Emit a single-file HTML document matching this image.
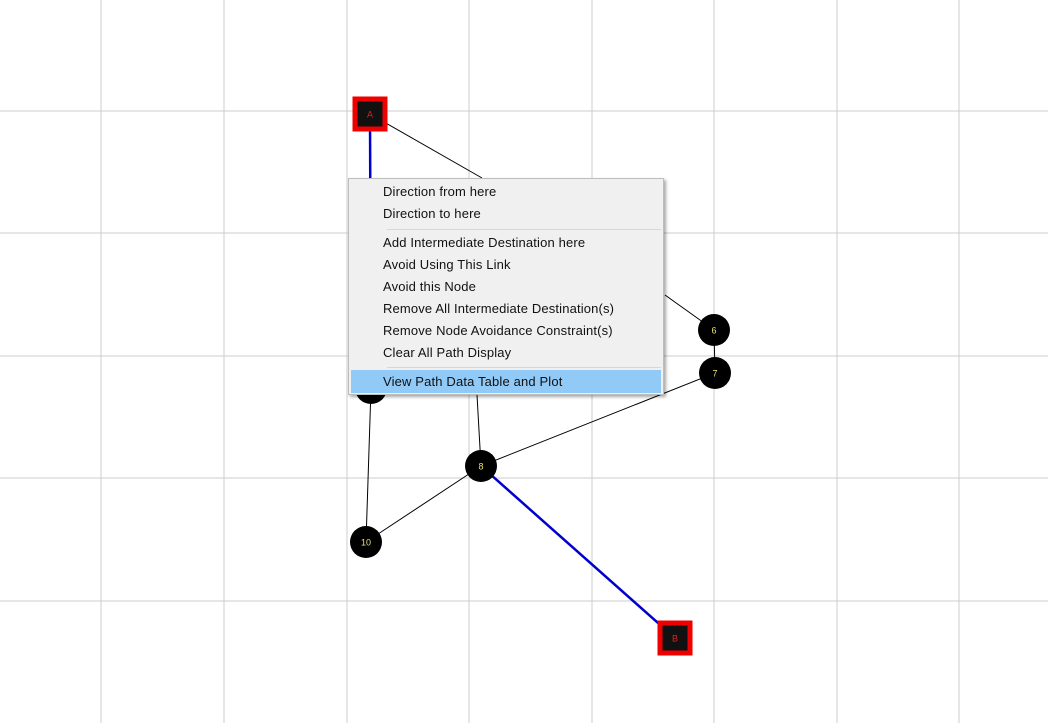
<!DOCTYPE html>
<html><head><meta charset="utf-8">
<style>
html,body{margin:0;padding:0;background:#fff;}
#wrap{position:relative;width:1048px;height:723px;overflow:hidden;font-family:"Liberation Sans","Noto Sans CJK SC",sans-serif;}
svg{position:absolute;left:0;top:0;}
#menu{position:absolute;left:348px;top:178px;width:316px;height:217px;background:#f0f0f0;border:1px solid #bdbdbd;box-shadow:2px 2px 3px rgba(0,0,0,0.35);box-sizing:border-box;}
.item{position:absolute;left:34px;font-size:13px;color:#111;line-height:22px;height:22px;white-space:nowrap;letter-spacing:0.15px;}
.sep{position:absolute;left:38px;right:2px;height:1px;background:#d7d7d7;}
.hl{position:absolute;left:2px;width:310px;top:191px;height:23px;background:#91c9f7;}
</style></head>
<body>
<div id="wrap">
<svg id="svg" width="1048" height="723"></svg>
<div id="menu">
  <div class="hl"></div>
  <div class="item" style="top:2px">Direction from here</div>
  <div class="item" style="top:24px">Direction to here</div>
  <div class="sep" style="top:50px"></div>
  <div class="item" style="top:53px">Add Intermediate Destination here</div>
  <div class="item" style="top:75px">Avoid Using This Link</div>
  <div class="item" style="top:97px">Avoid this Node</div>
  <div class="item" style="top:119px">Remove All Intermediate Destination(s)</div>
  <div class="item" style="top:141px">Remove Node Avoidance Constraint(s)</div>
  <div class="item" style="top:163px">Clear All Path Display</div>
  <div class="sep" style="top:188px"></div>
  <div class="item" style="top:192px">View Path Data Table and Plot</div>
</div>
</div>
<script>
const gridX = [101,224,347,469,592,714,837,959];
const gridY = [111,233,356,478,601];
const nodeIds = ["A","B","6","7","8","10","h"];
const nodeX = [370,675,714,715,481,366,371];
const nodeY = [114,638,330,373,466,542,388];
const nodeKind = ["end","end","n","n","n","n","n"];
const edgeFrom = ["A","A","6","8","8","8","10","8","6"];
const edgeTo   = ["h","x1","7","7","10","B","h","x2","x3"];
const edgePath = [true,false,false,false,false,true,false,false,false];
const extraX = {x1:482,x2:477,x3:665};
const extraY = {x1:178,x2:395,x3:295};
const NS="http://www.w3.org/2000/svg";
const svg=document.getElementById('svg');
function mk(t,a){const e=document.createElementNS(NS,t);for(const k in a)e.setAttribute(k,a[k]);svg.appendChild(e);return e;}
gridX.forEach(x=>{const l=mk('line',{x1:x,y1:0,x2:x,y2:723,stroke:'#cccccc','stroke-width':1});

});
gridY.forEach(y=>{const l=mk('line',{x1:0,y1:y,x2:1048,y2:y,stroke:'#cccccc','stroke-width':1});

});
function pos(id){const i=nodeIds.indexOf(id);if(i>=0)return[nodeX[i],nodeY[i]];return[extraX[id],extraY[id]];}
edgeFrom.forEach((f,i)=>{const a=pos(f),b=pos(edgeTo[i]);
const l=mk('line',{x1:a[0],y1:a[1],x2:b[0],y2:b[1],stroke:edgePath[i]?'#0000cc':'#000','stroke-width':edgePath[i]?2.5:1});

});
nodeIds.forEach((id,i)=>{const x=nodeX[i],y=nodeY[i];
if(nodeKind[i]==='end'){
const r=mk('rect',{x:x-15,y:y-15,width:30,height:30,fill:'#111',stroke:'#ee0000','stroke-width':5});


const t=mk('text',{x:x,y:y+3.5,'text-anchor':'middle','font-size':9,fill:'#dd2222','font-family':'Liberation Sans'});t.textContent=id;


}else{
const c=mk('circle',{cx:x,cy:y,r:16,fill:'#000'});


if(id!=='h'){const t=mk('text',{x:x,y:y+3.5,'text-anchor':'middle','font-size':9,fill:'#e8e070','font-family':'Liberation Sans'});t.textContent=id;

}
}});
</script>
</body></html>
